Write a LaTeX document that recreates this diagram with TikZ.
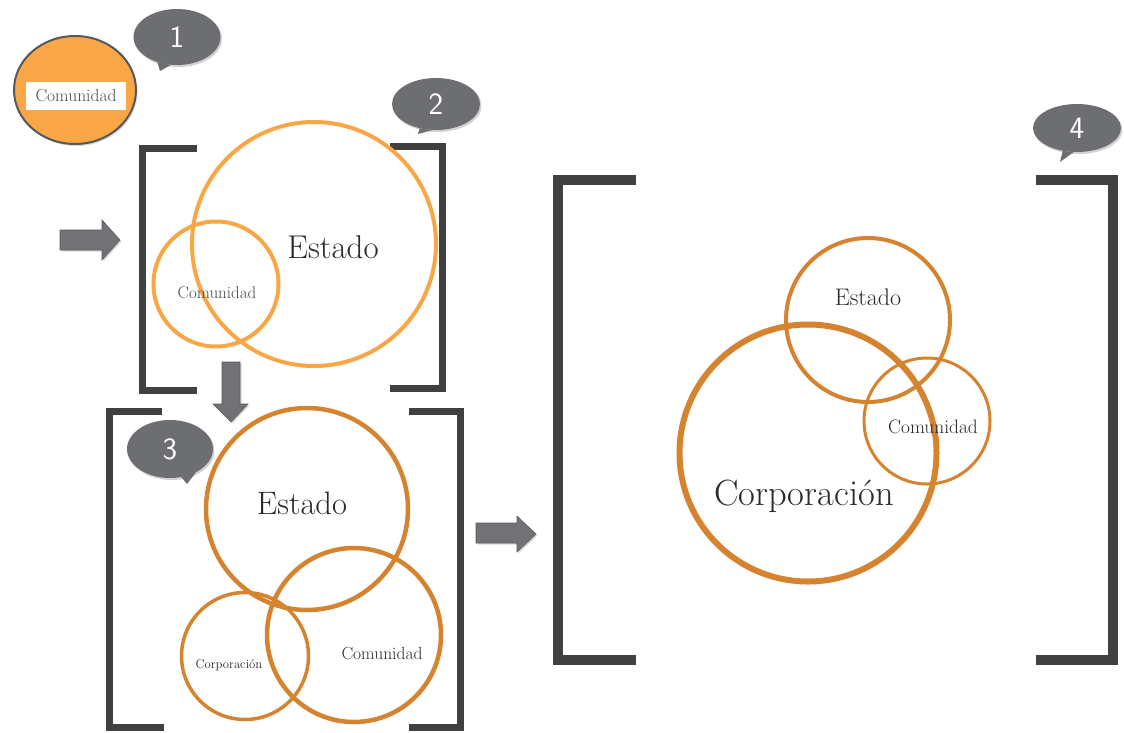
\documentclass[tikz,border=0pt]{standalone}
\usetikzlibrary{shapes.geometric,shadows}
\definecolor{lightor}{HTML}{F9A646}
\definecolor{darkor}{HTML}{D5832F}
\definecolor{brk}{HTML}{404040}
\definecolor{bub}{HTML}{6D6E72}
\definecolor{arr}{HTML}{727276}
\definecolor{txt}{HTML}{2A2A2A}
\tikzset{
  bracketline/.style={draw=brk,line width=7pt,line join=miter,line cap=rect},
  bigbracket/.style={draw=brk,line width=9.5pt,line join=miter},
  ringA/.style={circle,draw=lightor,line width=4pt,inner sep=0pt},
  ringB/.style={circle,draw=darkor,line width=4.5pt,inner sep=0pt},
  bubble/.style={ellipse,fill=bub,inner sep=0pt,text=white,font=\sffamily\fontsize{31}{31}\selectfont,
     drop shadow={shadow xshift=1.5pt,shadow yshift=-2pt,opacity=0.35}},
  tail/.style={fill=bub},
  blockarrow/.style={fill=arr,draw=arr!80!black,line width=0.6pt,
     drop shadow={shadow xshift=1.5pt,shadow yshift=-1.5pt,opacity=0.3}},
  lbl/.style={text=txt,inner sep=0pt},
}
\begin{document}
\begin{tikzpicture}[x=1pt,y=-1pt]
\useasboundingbox[fill=white] (0,0) rectangle (1124,732);

% ---- Step 1 ----
\node[ellipse,fill=lightor,draw=bub!80!black,line width=2pt,minimum width=122pt,minimum height=108pt,inner sep=0pt,
      drop shadow={shadow xshift=1.5pt,shadow yshift=-2pt,opacity=0.3}] (c1) at (75,90) {};
\node[fill=white,minimum width=100pt,minimum height=28pt,inner sep=0pt,text=txt!85,
      font=\fontsize{17.5}{17.5}\selectfont] (c1t) at (76,96) {Comunidad};
\node[bubble,minimum width=87pt,minimum height=56pt] (b1) at (177,37) {1};
\coordinate (t1) at (160,71);
\fill[tail] (b1.232) -- (t1) -- (b1.258) -- cycle;

% ---- Step 2 ----
\node[bubble,minimum width=88pt,minimum height=52pt] (b2) at (436,104) {2};
\coordinate (t2) at (418,134);
\fill[tail] (b2.236) -- (t2) -- (b2.262) -- cycle;
\draw[bracketline] (193,148) -- (142,148) -- (142,390) -- (193,390);
\draw[bracketline] (393,146) -- (442,146) -- (442,388) -- (393,388);
\node[ringA,minimum size=244pt] (e2) at (314,244) {};
\node[ringA,minimum size=125pt] (m2) at (216,284) {};
\node[lbl,font=\fontsize{33}{33}\selectfont] (e2t) at (333,247) {Estado};
\node[lbl,text=txt!85,font=\fontsize{17}{17}\selectfont] (m2t) at (217,293) {Comunidad};

% arrows
\fill[blockarrow] (60,230) -- (102,230) -- (102,220) -- (120,240) -- (102,260) -- (102,250) -- (60,250) -- cycle;
\fill[blockarrow] (222,362) -- (240,362) -- (240,404) -- (248,404) -- (231,422) -- (213,404) -- (222,404) -- cycle;
\fill[blockarrow] (476,523) -- (517,523) -- (517,516) -- (536,534) -- (517,552) -- (517,543) -- (476,543) -- cycle;

% ---- Step 3 ----
\draw[bracketline] (158,411) -- (109,411) -- (109,727) -- (160,727);
\draw[bracketline] (412,411) -- (460,411) -- (460,727) -- (412,727);
\node[ringB,minimum size=202pt] (e3) at (307,509) {};
\node[ringB,minimum size=174pt] (m3) at (354,635) {};
\node[ringB,minimum size=127pt,line width=3.5pt] (p3) at (245,656) {};
\node[lbl,font=\fontsize{32.5}{32.5}\selectfont] (e3t) at (302,503) {Estado};
\node[lbl,font=\fontsize{17.5}{17.5}\selectfont] (m3t) at (382,654) {Comunidad};
\node[lbl,font=\fontsize{12.7}{12.7}\selectfont] (p3t) at (229,665) {Corporación};
\node[bubble,minimum width=86pt,minimum height=58pt] (b3) at (170,449) {3};
\coordinate (t3) at (187,484);
\fill[tail] (b3.292) -- (t3) -- (b3.318) -- cycle;

% ---- Step 4 ----
\draw[bigbracket] (636,180) -- (558,180) -- (558,660) -- (636,660);
\draw[bigbracket] (1036,180) -- (1113,180) -- (1113,660) -- (1036,660);
\node[bubble,minimum width=88pt,minimum height=48pt] (b4) at (1077,128) {4};
\coordinate (t4) at (1060,162);
\fill[tail] (b4.238) -- (t4) -- (b4.262) -- cycle;
\node[ringB,minimum size=164pt,line width=4pt] (e4) at (868,320) {};
\node[ringB,minimum size=126pt,line width=3pt] (m4) at (927,421) {};
\node[ringB,minimum size=257pt,line width=6pt] (p4) at (808,453) {};
\node[lbl,font=\fontsize{24}{24}\selectfont] (e4t) at (868,297) {Estado};
\node[lbl,font=\fontsize{19.4}{19.4}\selectfont] (m4t) at (933,427) {Comunidad};
\node[lbl,font=\fontsize{36.5}{36.5}\selectfont] (p4t) at (804,496) {Corporación};
\end{tikzpicture}
\end{document}
